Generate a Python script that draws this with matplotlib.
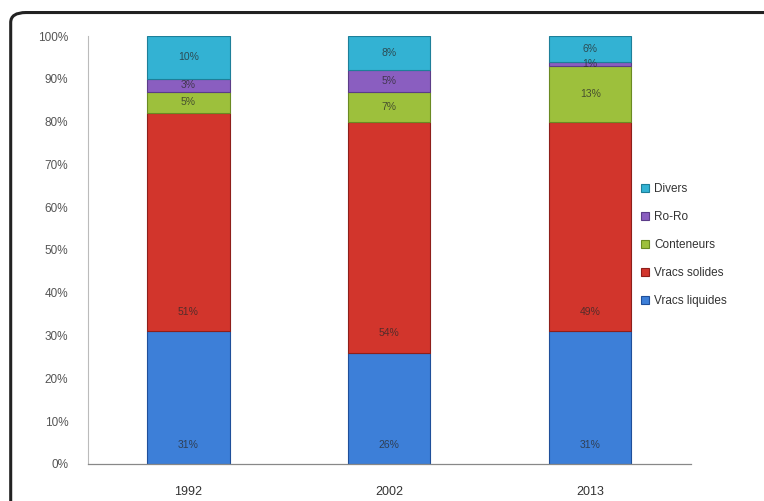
import matplotlib.pyplot as plt
from matplotlib.patches import FancyBboxPatch

plt.rcParams['font.family'] = 'Liberation Sans'

years = ['1992', '2002', '2013']
series = ['Vracs liquides', 'Vracs solides', 'Conteneurs', 'Ro-Ro', 'Divers']

# share of traffic (%) per year, bottom to top of each stack
vracs_liquides = [31, 26, 31]
vracs_solides = [51, 54, 49]
conteneurs = [5, 7, 13]
ro_ro = [3, 5, 1]
divers = [10, 8, 6]

colors = ['#3d7fd8', '#d2352c', '#9dc03c', '#8a5ec0', '#33b2d3']
edges = ['#1f4f9a', '#8e1f1a', '#6a8a22', '#5b3c88', '#1d7f99']

fig = plt.figure(figsize=(7.64, 5.01), dpi=100)
ax = fig.add_axes([0.115, 0.074, 0.789, 0.854])

x = range(len(years))
bottom = [0, 0, 0]
for name, vals, c, ec in zip(series, [vracs_liquides, vracs_solides, conteneurs, ro_ro, divers], colors, edges):
    ax.bar(x, vals, bottom=bottom, width=0.41, color=c, edgecolor=ec,
           linewidth=0.8, label=name)
    for i, (v, b) in enumerate(zip(vals, bottom)):
        # big segments get their label low in the bar, small ones centred
        y = b + 4.5 if v > 20 else b + v / 2
        ax.text(i, y, f'{v}%', ha='center', va='center', fontsize=7.5,
                color='#2a2a2a', alpha=0.75)
    bottom = [b + v for b, v in zip(bottom, vals)]

ax.set_xlim(-0.5, 2.5)
ax.set_ylim(0, 100)
ax.set_yticks(range(0, 101, 10))
ax.set_yticklabels([f'{t}%' for t in range(0, 101, 10)])
ax.set_xticks(list(x))
ax.set_xticklabels(years)
ax.tick_params(axis='y', length=0, pad=14, labelsize=8.5, labelcolor='#555555')
ax.tick_params(axis='x', length=0, pad=16, labelsize=9, labelcolor='#333333')

for side in ['top', 'right']:
    ax.spines[side].set_visible(False)
ax.spines['left'].set_color('#bbbbbb')
ax.spines['left'].set_linewidth(0.8)
ax.spines['bottom'].set_color('#888888')
ax.spines['bottom'].set_linewidth(0.9)

handles, labels = ax.get_legend_handles_labels()
leg = fig.legend(handles[::-1], labels[::-1], loc='upper left',
                 bbox_to_anchor=(0.825, 0.655), frameon=False, fontsize=8.5,
                 handlelength=0.7, handleheight=0.7, handletextpad=0.4,
                 labelspacing=1.35, labelcolor='#333333')

# rounded frame around the whole chart
frame = FancyBboxPatch((0.014, -0.02), 1.02, 0.995,
                       boxstyle='round,pad=0,rounding_size=0.02',
                       transform=fig.transFigure, fill=False,
                       edgecolor='#222222', linewidth=2.2, clip_on=False)
fig.patches.append(frame)

fig.savefig('out.png', dpi=100)
